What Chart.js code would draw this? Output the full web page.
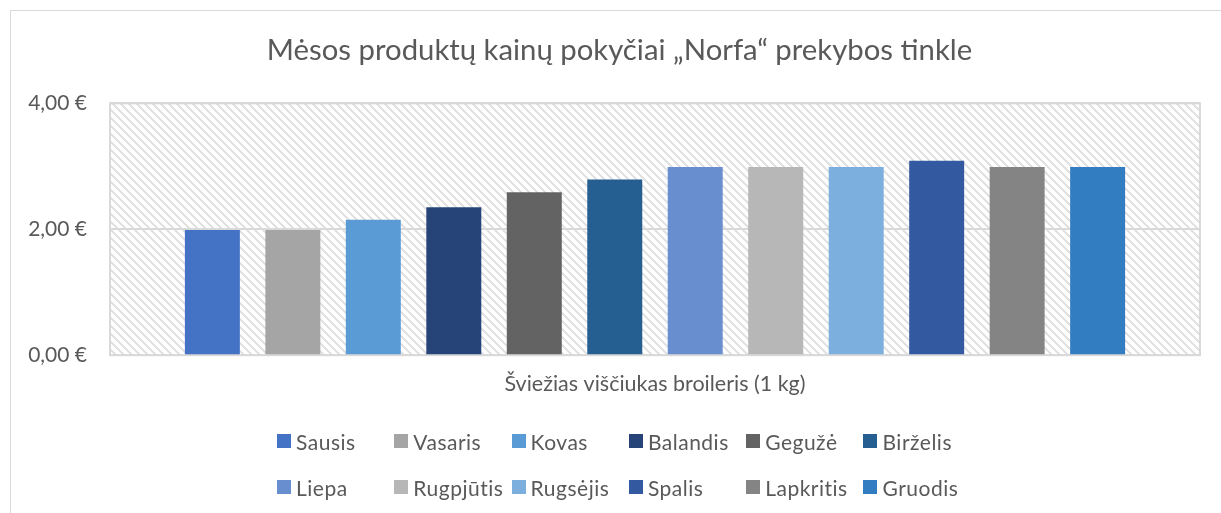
<!DOCTYPE html>
<html lang="lt">
<head>
<meta charset="utf-8">
<script src="https://cdn.jsdelivr.net/npm/chart.js@4.4.1/dist/chart.umd.min.js"></script>
<style>
html,body{margin:0;padding:0;background:#fff;}
#wrap{position:relative;width:1221px;height:513px;overflow:hidden;}
#c{position:absolute;left:0;top:0;}
#legend{position:absolute;left:277px;top:429px;display:grid;grid-template-columns:repeat(6,117.3px);row-gap:22px;font-family:Lato,sans-serif;font-size:21px;letter-spacing:0.5px;color:#595959;}
.li{display:flex;align-items:center;height:24px;white-space:nowrap;}
.li i{display:inline-block;width:14px;height:14px;margin-right:5px;flex:none;}
</style>
</head>
<body>
<div id="wrap">
  <canvas id="c" width="1221" height="513"></canvas>
  <div id="legend"></div>
</div>
<script>
const title='Mėsos produktų kainų pokyčiai „Norfa“ prekybos tinkle';
const category=['Šviežias viščiukas broileris (1 kg)'];
const months=['Sausis','Vasaris','Kovas','Balandis','Gegužė','Birželis','Liepa','Rugpjūtis','Rugsėjis','Spalis','Lapkritis','Gruodis'];
const prices=[1.99,1.99,2.15,2.35,2.59,2.79,2.99,2.99,2.99,3.09,2.99,2.99];
const colors=['#4472C4','#A5A5A5','#5B9BD5','#264478','#636363','#255E91','#698ED0','#B7B7B7','#7CAFDD','#335AA1','#848484','#327DC2'];
const yTicks=[0,2,4];

const TXT='#595959',LINE='#d9d9d9',FONT='Lato, sans-serif';

// Excel "wide downward diagonal" fill, 8px tile
function makeHatch(ctx){
  const p=document.createElement('canvas');p.width=8;p.height=8;
  const g=p.getContext('2d');
  g.fillStyle='#fff';g.fillRect(0,0,8,8);
  g.fillStyle='#e2e2e2';
  for(let y=0;y<8;y++)for(let k=0;k<3;k++)g.fillRect((y+k)%8,y,1,1);
  return ctx.createPattern(p,'repeat');
}

const plotFrame={
  id:'plotFrame',
  beforeInit(chart){chart.ctx.letterSpacing='0.5px';},
  beforeDraw(chart){
    const {ctx,chartArea:a}=chart;
    ctx.save();
    ctx.strokeStyle=LINE;ctx.lineWidth=1;
    ctx.strokeRect(10.5,10.5,1400,800);
    ctx.fillStyle=makeHatch(ctx);
    ctx.fillRect(a.left,a.top,a.right-a.left,a.bottom-a.top);
    ctx.restore();
  },
  beforeDatasetsDraw(chart){
    const {ctx,chartArea:a}=chart;
    ctx.save();
    ctx.strokeStyle=LINE;ctx.lineWidth=2;
    ctx.strokeRect(a.left,a.top,a.right-a.left,a.bottom-a.top);
    ctx.restore();
  }
};

const datasets=months.map((m,i)=>({
  label:m,data:[prices[i]],backgroundColor:colors[i],borderWidth:0,
  categoryPercentage:0.886,barPercentage:0.683
}));

new Chart(document.getElementById('c'),{
  type:'bar',
  data:{labels:category,datasets},
  options:{
    responsive:false,animation:false,devicePixelRatio:1,
    layout:{padding:{left:19,right:1,top:0,bottom:100}},
    plugins:{
      legend:{display:false},tooltip:{enabled:false},
      title:{display:true,text:title,color:TXT,font:{family:FONT,size:29.3,weight:'normal'},padding:{top:33.4,bottom:34.8}}
    },
    scales:{
      x:{grid:{display:false,drawTicks:false},border:{display:false},
        ticks:{color:TXT,font:{family:FONT,size:21.5},padding:16}},
      y:{min:0,max:4,
        afterBuildTicks:s=>{s.ticks=yTicks.map(v=>({value:v}));},
        afterFit:s=>{s.width=91;},
        grid:{color:LINE,lineWidth:2,drawTicks:false},border:{display:false},
        ticks:{color:TXT,font:{family:FONT,size:21},padding:23,
          callback:v=>v.toFixed(2).replace('.',',')+' €'}},
      // empty right gutter so the title centres like the original
      gutter:{position:'right',display:true,afterFit:s=>{s.width=20;},
        grid:{display:false,drawTicks:false},border:{display:false},ticks:{display:false}}
    }
  },
  plugins:[plotFrame]
});

const lg=document.getElementById('legend');
months.forEach((m,i)=>{
  const d=document.createElement('div');d.className='li';
  d.innerHTML=`<i style="background:${colors[i]}"></i><span>${m}</span>`;
  lg.appendChild(d);
});
</script>
</body>
</html>
